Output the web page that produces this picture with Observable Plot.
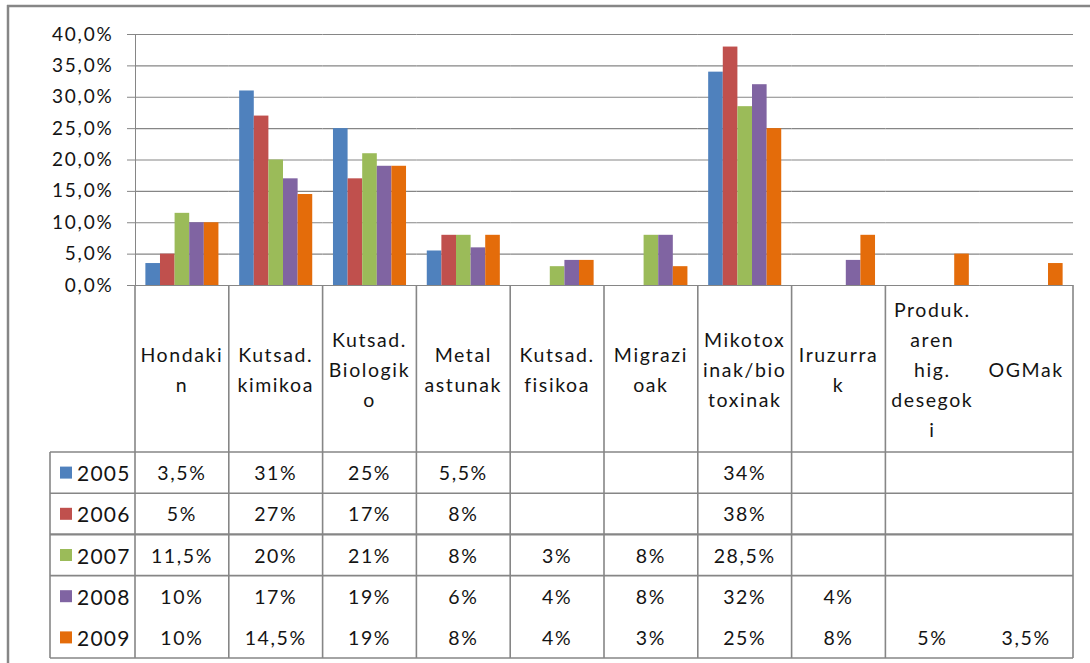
<!DOCTYPE html>
<html><head><meta charset="utf-8">
<script src="https://cdn.jsdelivr.net/npm/d3@7"></script>
<script src="https://cdn.jsdelivr.net/npm/@observablehq/plot@0.6"></script>
<style>body{margin:0;background:#fff;} #chart{width:1090px;height:663px;}</style>
</head><body><div id="chart"></div>
<script>
const categories = ["Hondakin","Kutsad. kimikoa","Kutsad. Biologiko","Metal astunak","Kutsad. fisikoa","Migrazioak","Mikotoxinak/biotoxinak","Iruzurrak","Produk. aren hig. desegoki","OGMak"];
const headerLabels = [["Hondaki","n"],["Kutsad.","kimikoa"],["Kutsad.","Biologik","o"],["Metal","astunak"],["Kutsad.","fisikoa"],["Migrazi","oak"],["Mikotox","inak/bio","toxinak"],["Iruzurra","k"],["Produk.","aren","hig.","desegok","i"],["OGMak"]];
const years = ["2005","2006","2007","2008","2009"];
const colors = ["#4F81BD","#C0504D","#9BBB59","#8064A2","#E46C0A"];
const v2005 = [3.5,31,25,5.5,null,null,34,null,null,null];
const v2006 = [5,27,17,8,null,null,38,null,null,null];
const v2007 = [11.5,20,21,8,3,8,28.5,null,null,null];
const v2008 = [10,17,19,6,4,8,32,4,null,null];
const v2009 = [10,14.5,19,8,4,3,25,8,5,3.5];
const yTicks = [0,5,10,15,20,25,30,35,40];

const series = [v2005,v2006,v2007,v2008,v2009];
const rows = [];
series.forEach((vals, i) => vals.forEach((v, j) => { if (v != null) rows.push({year: years[i], category: categories[j], value: v}); }));

const fmtAxis = d => d.toFixed(1).replace(".", ",") + "%";
const fmtCell = d => (Number.isInteger(d) ? String(d) : d.toFixed(1).replace(".", ",")) + "%";

const W = 1090, H = 663, plotTop = 34, plotBottom = 285, plotLeft = 135, plotRight = 1073;
const FONT = "Lato, 'Open Sans', sans-serif";
const TXT = "#141414";

const plot = Plot.plot({
  width: W, height: H,
  marginLeft: plotLeft, marginRight: W - plotRight, marginTop: plotTop, marginBottom: H - plotBottom,
  style: {fontFamily: FONT, fontSize: "19px", color: "#868686", background: "#fff", overflow: "visible"},
  fx: {domain: categories, paddingInner: 0, paddingOuter: 0, round: false, axis: null, label: null},
  x: {domain: years, paddingInner: 0, paddingOuter: 0.71, round: false, axis: null, label: null},
  y: {domain: [0, 40], ticks: yTicks, tickFormat: fmtAxis, tickSize: 8, tickPadding: 14, label: null, line: true},
  color: {domain: years, range: colors},
  marks: [
    Plot.ruleY(yTicks, {stroke: "#868686", strokeWidth: 1.2}),
    Plot.barY(rows, {fx: "category", x: "year", y: "value", fill: "year"})
  ]
});
document.getElementById("chart").appendChild(plot);

const svg = d3.select(plot);
svg.selectAll("text").attr("fill", TXT).style("letter-spacing", "1.8px");

// table drawn from the same fx scale
const fx = plot.scale("fx");
const colX = categories.map(c => fx.apply(c));
const colW = fx.bandwidth;
const headTop = plotBottom, headBottom = 452, tableBottom = 658, legendLeft = 50;
const rowH = (tableBottom - headBottom) / years.length;
const g = svg.append("g").attr("font-family", FONT).attr("fill", TXT).attr("text-anchor", "middle");
const lineC = "#868686";
const hline = (x1, x2, y, w=1.6) => g.append("line").attr("x1", x1).attr("x2", x2).attr("y1", y).attr("y2", y).attr("stroke", lineC).attr("stroke-width", w);
const vline = (x, y1, y2, w=1.6) => g.append("line").attr("x1", x).attr("x2", x).attr("y1", y1).attr("y2", y2).attr("stroke", lineC).attr("stroke-width", w);

hline(legendLeft, plotRight, headBottom);
[1,2,3].forEach(i => hline(legendLeft, plotRight, headBottom + i*rowH, i === 2 ? 2.2 : 1.6));
hline(legendLeft, plotRight, tableBottom);
vline(legendLeft, headBottom, tableBottom);
vline(colX[0], headTop, tableBottom);
categories.forEach((c, j) => { if (j !== 8) vline(colX[j] + colW, headTop, tableBottom); });

// header labels
const headMid = (headTop + headBottom) / 2 + 1;
headerLabels.forEach((lines, j) => {
  const cx = colX[j] + colW / 2;
  lines.forEach((t, k) => {
    g.append("text").attr("x", cx).attr("y", headMid + (k - (lines.length - 1) / 2) * 30)
      .attr("text-anchor", "middle").attr("dominant-baseline", "central")
      .attr("font-size", 19.5).style("letter-spacing", "1.6px").text(t);
  });
});

// data rows
series.forEach((vals, i) => {
  const cy = headBottom + (i + 0.5) * rowH;
  g.append("rect").attr("x", 60).attr("y", cy - 6).attr("width", 12).attr("height", 12).attr("fill", colors[i]);
  g.append("text").attr("x", 77).attr("y", cy).attr("text-anchor", "start").attr("dominant-baseline", "central")
    .attr("font-size", 21).style("letter-spacing", "1.2px").text(years[i]);
  vals.forEach((v, j) => {
    if (v == null) return;
    g.append("text").attr("x", colX[j] + colW / 2).attr("y", cy).attr("text-anchor", "middle").attr("dominant-baseline", "central")
      .attr("font-size", 19.5).style("letter-spacing", "1.6px").text(fmtCell(v));
  });
});

// outer frame
hline(7, W, 6, 2.5);
vline(8, 5, H, 2.5);
</script>
</body></html>
